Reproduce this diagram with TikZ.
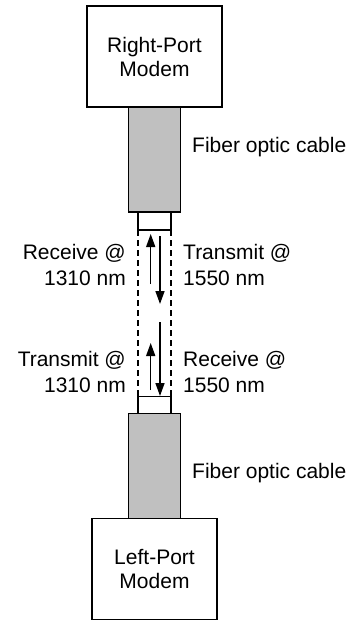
\documentclass[tikz,border=0pt]{standalone}
\usepackage{fontspec}
\setmainfont{Liberation Sans}
\usetikzlibrary{positioning,arrows.meta}
\definecolor{cablegray}{RGB}{192,192,192}
\tikzset{
  modembox/.style={draw, line width=1.5pt, minimum width=#1, minimum height=101pt,
    align=center, inner sep=0pt, outer sep=0pt, font=\fontsize{21}{24}\selectfont},
  cablebox/.style={draw, line width=1.5pt, fill=cablegray, minimum width=52pt,
    minimum height=105pt, inner sep=0pt, outer sep=0pt},
  plugbox/.style={draw, line width=1.5pt, minimum width=33pt, minimum height=#1,
    inner sep=0pt, outer sep=0pt},
  lbl/.style={inner sep=0pt, font=\fontsize{21}{26}\selectfont},
  fiber/.style={dashed, line width=1.5pt, dash pattern=on 6pt off 4pt},
  lightpath/.style={line width=1.5pt, -{Triangle[length=13pt,width=9pt]}}
}
\begin{document}
\begin{tikzpicture}[x=1pt, y=-1pt]
  \useasboundingbox (0,0) rectangle (354,621);

  % Right-Port kant
  \node[modembox=135pt] (rmodem) at (154.5,56.5) {Right-Port\\Modem};
  \node[cablebox, below=0pt of rmodem] (rcable) {};
  \node[plugbox=18pt, below=0pt of rcable] (rplug) {};
  \node[lbl, anchor=west] (rcablelbl) at (192,147) {Fiber optic cable};

  % Left-Port kant
  \node[modembox=125pt] (lmodem) at (154.5,569) {Left-Port\\Modem};
  \node[cablebox, above=0pt of lmodem] (lcable) {};
  \node[plugbox=17pt, above=0pt of lcable] (lplug) {};
  \node[lbl, anchor=west] (lcablelbl) at (192,473) {Fiber optic cable};

  % vezel tussen de stekkers
  \draw[fiber] (rplug.south west) -- (lplug.north west);
  \draw[fiber] (rplug.south east) -- (lplug.north east);

  % lichtrichtingen
  \coordinate (rup0) at (150.7,284);   \coordinate (rup1) at (150.7,234);
  \coordinate (rdn0) at (160,236);     \coordinate (rdn1) at (160,304);
  \coordinate (lup0) at (150.7,390);   \coordinate (lup1) at (150.7,343);
  \coordinate (ldn0) at (160,322);     \coordinate (ldn1) at (160,396);
  \draw[lightpath] (rup0) -- (rup1);
  \draw[lightpath] (rdn0) -- (rdn1);
  \draw[lightpath] (lup0) -- (lup1);
  \draw[lightpath] (ldn0) -- (ldn1);

  % golflengtes
  \node[lbl, anchor=east, align=right] (rrx) at (126,265) {Receive @\\1310 nm};
  \node[lbl, anchor=west, align=left] (rtx) at (183,265) {Transmit @\\1550 nm};
  \node[lbl, anchor=east, align=right] (ltx) at (126,372) {Transmit @\\1310 nm};
  \node[lbl, anchor=west, align=left] (lrx) at (183,372) {Receive @\\1550 nm};

\end{tikzpicture}
\end{document}
